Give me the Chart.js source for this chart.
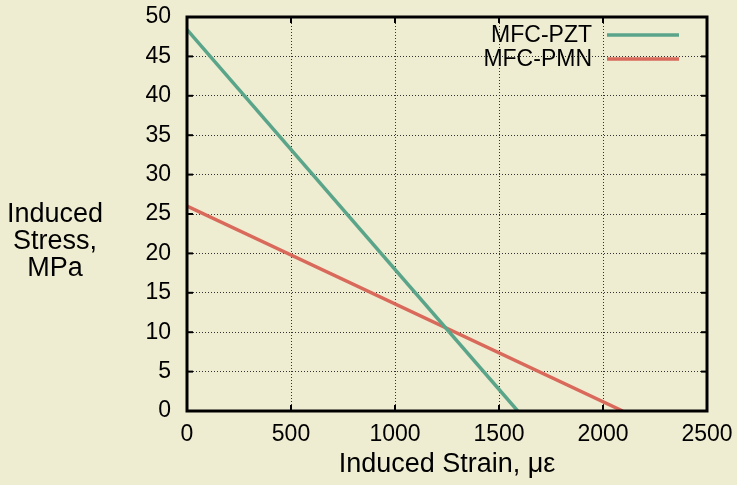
<!DOCTYPE html>
<html>
<head>
<meta charset="utf-8">
<script src="https://cdn.jsdelivr.net/npm/chart.js@4"></script>
<style>
  html, body { margin: 0; padding: 0; background: #efedd1; }
  #wrap { width: 737px; height: 485px; }
</style>
</head>
<body>
<div id="wrap"><canvas id="stressChart"></canvas></div>
<script>
// values
const seriesNames = ['MFC-PZT', 'MFC-PMN'];
const pztStrain = [0, 1590];
const pztStress = [48.4, 0];
const pmnStrain = [0, 2095];
const pmnStress = [26.0, 0];
const seriesColors = ['#5aa58a', '#d9695a'];
const yTitleLines = ['Induced', 'Stress,', 'MPa'];
const xTitle = 'Induced Strain, \u03bc\u03b5';

const FONT = "'Liberation Sans', Arial, sans-serif";

function toPoints(xs, ys) {
    return xs.map((x, i) => ({ x: x, y: ys[i] }));
}

// frame, inward ticks, y title and legend drawn by hand
const decorations = {
    id: 'decorations',
    afterDraw(chart) {
        const ctx = chart.ctx;
        const a = chart.chartArea;
        const xs = chart.scales.x, ys = chart.scales.y;
        ctx.save();
        ctx.strokeStyle = '#000';
        ctx.lineWidth = 2;
        xs.ticks.forEach(t => {
            const px = xs.getPixelForValue(t.value);
            ctx.beginPath(); ctx.moveTo(px, a.bottom); ctx.lineTo(px, a.bottom - 6); ctx.stroke();
            ctx.beginPath(); ctx.moveTo(px, a.top); ctx.lineTo(px, a.top + 6); ctx.stroke();
        });
        ys.ticks.forEach(t => {
            const py = ys.getPixelForValue(t.value);
            ctx.beginPath(); ctx.moveTo(a.left, py); ctx.lineTo(a.left + 6, py); ctx.stroke();
            ctx.beginPath(); ctx.moveTo(a.right, py); ctx.lineTo(a.right - 6, py); ctx.stroke();
        });
        ctx.lineWidth = 3;
        ctx.strokeRect(a.left, a.top, a.right - a.left, a.bottom - a.top);

        // y axis title, horizontal in three lines
        ctx.fillStyle = '#000';
        ctx.font = '27px ' + FONT;
        ctx.textAlign = 'center';
        ctx.textBaseline = 'middle';
        yTitleLines.forEach((s, i) => ctx.fillText(s, 55, 215 + i * 27));

        // legend in the top right corner
        ctx.font = '23px ' + FONT;
        ctx.textAlign = 'right';
        chart.data.datasets.forEach((ds, i) => {
            const y = 36 + i * 24;
            ctx.fillStyle = '#000';
            ctx.fillText(ds.label, 592, y);
            ctx.strokeStyle = ds.borderColor;
            ctx.lineWidth = 3.5;
            ctx.beginPath(); ctx.moveTo(607, y - 1); ctx.lineTo(679, y - 1); ctx.stroke();
        });
        ctx.restore();
    }
};

const ctx = document.getElementById('stressChart').getContext('2d');
new Chart(ctx, {
    type: 'line',
    data: {
        datasets: [
            { label: seriesNames[0], data: toPoints(pztStrain, pztStress), borderColor: seriesColors[0] },
            { label: seriesNames[1], data: toPoints(pmnStrain, pmnStress), borderColor: seriesColors[1] }
        ].map(ds => Object.assign(ds, { borderWidth: 3.5, pointRadius: 0, fill: false, tension: 0 }))
    },
    options: {
        responsive: true,
        maintainAspectRatio: false,
        animation: false,
        layout: { padding: { top: 17, right: 30, left: 0, bottom: 0 } },
        plugins: { legend: { display: false }, tooltip: { enabled: false } },
        scales: {
            x: {
                type: 'linear',
                min: 0, max: 2500,
                afterFit(scale) { scale.height = 74; scale.paddingLeft = 0; scale.paddingRight = 0; },
                grid: { color: '#333', lineWidth: 1, drawTicks: false },
                border: { display: false, dash: [1, 2] },
                ticks: { stepSize: 500, color: '#000', padding: 10, font: { family: FONT, size: 23 },
                         callback: v => String(v) },
                title: { display: true, text: xTitle, color: '#000', padding: { top: 2 }, font: { family: FONT, size: 27 } }
            },
            y: {
                min: 0, max: 50,
                afterFit(scale) { scale.width = 187; scale.paddingTop = 0; scale.paddingBottom = 0; },
                grid: { color: '#333', lineWidth: 1, drawTicks: false },
                border: { display: false, dash: [1, 2] },
                ticks: { stepSize: 5, color: '#000', padding: 16, font: { family: FONT, size: 23 } }
            }
        }
    },
    plugins: [decorations]
});
</script>
</body>
</html>
